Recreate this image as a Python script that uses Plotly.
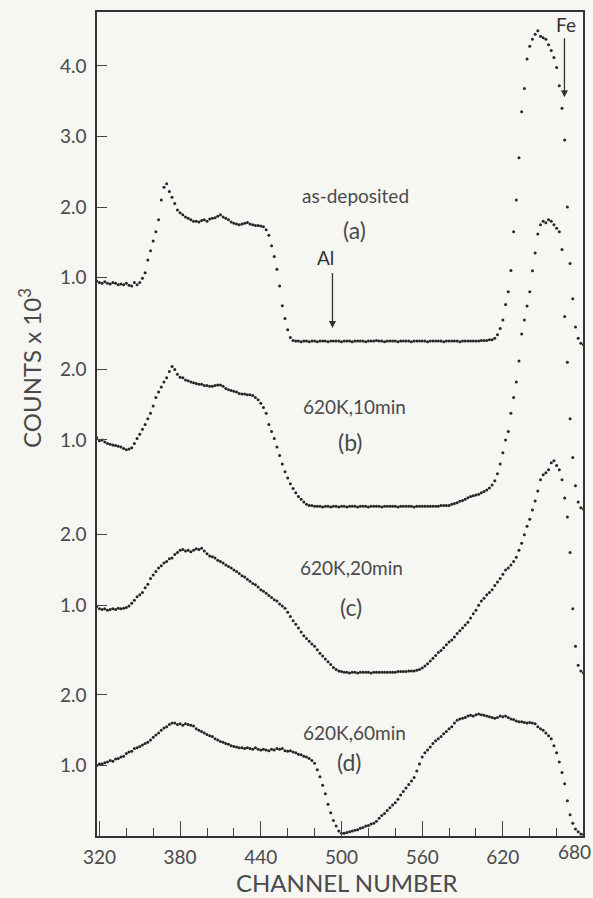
import plotly.graph_objects as go

# ---------------- data ----------------
channels = list(range(318, 681, 2))  # channel number of each plotted point

# counts (x 10^3), one value per plotted channel
counts_a = [  # as-deposited
    0.95, 0.93, 0.92, 0.94, 0.92, 0.91, 0.93, 0.92, 0.90, 0.91,
    0.90, 0.92, 0.89, 0.88, 0.93, 0.90, 0.93, 0.99, 1.07, 1.25,
    1.38, 1.52, 1.65, 1.82, 2.10, 2.28, 2.33, 2.22, 2.14, 2.05,
    1.96, 1.92, 1.89, 1.86, 1.84, 1.82, 1.80, 1.80, 1.79, 1.81,
    1.82, 1.80, 1.83, 1.84, 1.85, 1.87, 1.89, 1.86, 1.84, 1.82,
    1.79, 1.77, 1.76, 1.75, 1.76, 1.77, 1.78, 1.76, 1.75, 1.74,
    1.74, 1.73, 1.72, 1.68, 1.60, 1.45, 1.30, 1.12, 0.88, 0.60,
    0.42, 0.26, 0.15, 0.11, 0.10, 0.10, 0.09, 0.10, 0.10, 0.09,
    0.10, 0.10, 0.09, 0.10, 0.10, 0.10, 0.09, 0.10, 0.10, 0.10,
    0.10, 0.09, 0.10, 0.10, 0.10, 0.09, 0.10, 0.10, 0.10, 0.10,
    0.09, 0.10, 0.10, 0.10, 0.11, 0.10, 0.10, 0.09, 0.10, 0.10,
    0.10, 0.10, 0.09, 0.10, 0.10, 0.10, 0.10, 0.09, 0.10, 0.10,
    0.10, 0.10, 0.10, 0.09, 0.10, 0.10, 0.10, 0.10, 0.10, 0.09,
    0.10, 0.10, 0.10, 0.10, 0.10, 0.09, 0.10, 0.10, 0.10, 0.10,
    0.10, 0.10, 0.10, 0.11, 0.11, 0.11, 0.12, 0.12, 0.14, 0.19,
    0.28, 0.40, 0.62, 0.80, 1.10, 1.65, 2.10, 2.70, 3.35, 3.68,
    4.10, 4.28, 4.38, 4.45, 4.50, 4.42, 4.40, 4.38, 4.30, 4.22,
    4.12, 3.98, 3.72, 3.40, 2.95, 2.00, 1.20, 0.70, 0.30, 0.14,
    0.07, 0.05,
]
counts_b = [  # 620 K, 10 min
    1.03, 0.99, 1.00, 0.97, 0.95, 0.94, 0.93, 0.92, 0.91, 0.90,
    0.88, 0.86, 0.87, 0.89, 0.95, 1.02, 1.08, 1.15, 1.22, 1.30,
    1.38, 1.48, 1.60, 1.68, 1.75, 1.82, 1.88, 1.97, 2.04, 2.00,
    1.93, 1.89, 1.88, 1.85, 1.84, 1.82, 1.81, 1.80, 1.79, 1.79,
    1.77, 1.77, 1.76, 1.76, 1.77, 1.78, 1.78, 1.76, 1.73, 1.71,
    1.70, 1.69, 1.68, 1.66, 1.65, 1.65, 1.64, 1.64, 1.63, 1.60,
    1.57, 1.52, 1.46, 1.38, 1.22, 1.12, 1.02, 0.90, 0.78, 0.66,
    0.55, 0.46, 0.38, 0.31, 0.25, 0.20, 0.16, 0.12, 0.09, 0.07,
    0.07, 0.06, 0.06, 0.06, 0.05, 0.06, 0.06, 0.05, 0.06, 0.06,
    0.05, 0.06, 0.06, 0.05, 0.06, 0.06, 0.06, 0.05, 0.06, 0.06,
    0.06, 0.05, 0.06, 0.06, 0.06, 0.06, 0.05, 0.06, 0.06, 0.06,
    0.06, 0.06, 0.05, 0.06, 0.06, 0.06, 0.06, 0.06, 0.05, 0.06,
    0.06, 0.06, 0.06, 0.06, 0.06, 0.06, 0.06, 0.06, 0.07, 0.07,
    0.07, 0.07, 0.09, 0.10, 0.11, 0.13, 0.14, 0.16, 0.18, 0.20,
    0.21, 0.22, 0.23, 0.25, 0.27, 0.29, 0.32, 0.36, 0.42, 0.52,
    0.66, 0.82, 1.00, 1.12, 1.38, 1.60, 1.82, 2.12, 2.50, 2.70,
    2.90, 3.10, 3.40, 3.65, 3.92, 4.05, 4.10, 4.08, 4.12, 4.10,
    4.05, 4.00, 3.95, 3.70, 2.75, 2.10, 1.30, 0.75, 0.35, 0.12,
    0.04, 0.02,
]
counts_c = [  # 620 K, 20 min
    0.98, 0.95, 0.94, 0.95, 0.93, 0.94, 0.95, 0.94, 0.96, 0.95,
    0.96, 0.97, 0.99, 1.03, 1.07, 1.12, 1.15, 1.18, 1.25, 1.30,
    1.38, 1.43, 1.48, 1.53, 1.56, 1.60, 1.62, 1.66, 1.67, 1.72,
    1.75, 1.78, 1.79, 1.77, 1.78, 1.76, 1.78, 1.80, 1.79, 1.81,
    1.77, 1.73, 1.70, 1.69, 1.67, 1.64, 1.62, 1.60, 1.57, 1.55,
    1.53, 1.50, 1.48, 1.45, 1.42, 1.40, 1.37, 1.34, 1.31, 1.29,
    1.26, 1.22, 1.20, 1.17, 1.14, 1.11, 1.08, 1.06, 1.02, 0.99,
    0.96, 0.90, 0.84, 0.78, 0.73, 0.68, 0.62, 0.57, 0.53, 0.49,
    0.45, 0.42, 0.37, 0.32, 0.28, 0.24, 0.20, 0.16, 0.12, 0.09,
    0.07, 0.06, 0.05, 0.05, 0.04, 0.05, 0.05, 0.04, 0.05, 0.05,
    0.05, 0.05, 0.04, 0.05, 0.05, 0.05, 0.05, 0.05, 0.05, 0.05,
    0.05, 0.05, 0.06, 0.06, 0.06, 0.06, 0.07, 0.07, 0.07, 0.08,
    0.09, 0.11, 0.14, 0.17, 0.21, 0.25, 0.29, 0.33, 0.36, 0.40,
    0.44, 0.48, 0.51, 0.55, 0.60, 0.64, 0.68, 0.72, 0.76, 0.82,
    0.88, 0.93, 1.00, 1.06, 1.10, 1.15, 1.18, 1.22, 1.28, 1.33,
    1.38, 1.44, 1.50, 1.53, 1.57, 1.62, 1.68, 1.78, 1.88, 2.00,
    2.12, 2.22, 2.35, 2.48, 2.62, 2.78, 2.85, 2.88, 2.92, 3.02,
    3.05, 2.98, 2.92, 2.78, 2.52, 2.25, 1.75, 0.95, 0.42, 0.15,
    0.07, 0.04,
]
counts_d = [  # 620 K, 60 min
    1.00, 1.02, 1.02, 1.04, 1.05, 1.07, 1.06, 1.09, 1.10, 1.12,
    1.13, 1.17, 1.19, 1.20, 1.24, 1.25, 1.27, 1.29, 1.31, 1.33,
    1.36, 1.40, 1.43, 1.46, 1.50, 1.53, 1.55, 1.58, 1.60, 1.60,
    1.58, 1.59, 1.57, 1.59, 1.58, 1.57, 1.56, 1.52, 1.50, 1.48,
    1.46, 1.44, 1.42, 1.41, 1.38, 1.36, 1.34, 1.33, 1.31, 1.30,
    1.28, 1.27, 1.26, 1.25, 1.25, 1.24, 1.25, 1.24, 1.23, 1.25,
    1.23, 1.22, 1.23, 1.22, 1.21, 1.23, 1.22, 1.24, 1.23, 1.24,
    1.21, 1.20, 1.21, 1.19, 1.18, 1.16, 1.15, 1.13, 1.12, 1.10,
    1.07, 1.03, 0.94, 0.84, 0.72, 0.60, 0.45, 0.33, 0.22, 0.14,
    0.07, 0.04, 0.04, 0.05, 0.06, 0.07, 0.08, 0.09, 0.11, 0.12,
    0.14, 0.15, 0.17, 0.18, 0.21, 0.25, 0.29, 0.32, 0.36, 0.40,
    0.44, 0.47, 0.52, 0.58, 0.63, 0.68, 0.73, 0.78, 0.83, 0.92,
    1.02, 1.12, 1.18, 1.22, 1.26, 1.31, 1.35, 1.38, 1.41, 1.45,
    1.48, 1.52, 1.55, 1.60, 1.64, 1.66, 1.67, 1.68, 1.70, 1.71,
    1.70, 1.72, 1.73, 1.72, 1.71, 1.70, 1.69, 1.68, 1.67, 1.68,
    1.70, 1.69, 1.70, 1.68, 1.66, 1.65, 1.63, 1.62, 1.62, 1.61,
    1.60, 1.61, 1.60, 1.59, 1.55, 1.52, 1.50, 1.46, 1.42, 1.38,
    1.28, 1.18, 1.05, 0.90, 0.74, 0.50, 0.30, 0.18, 0.10, 0.06,
    0.03, 0.02,
]

spectrum_names = ["as-deposited", "620K,10min", "620K,20min", "620K,60min"]
panel_letters = ["(a)", "(b)", "(c)", "(d)"]
y_tick_counts = [[1.0, 2.0, 3.0, 4.0], [1.0, 2.0], [1.0, 2.0], [1.0, 2.0]]
x_tick_values = [320, 380, 440, 500, 560, 620, 680]
element_labels = ["Al", "Fe"]

# ---------------- layout constants ----------------
series = [counts_a, counts_b, counts_c, counts_d]
for s in series:
    assert len(s) == len(channels), len(s)

offsets = [6.915, 4.614, 2.27, 0.0]          # vertical stacking offset of each spectrum
X_RANGE = [318.2, 679.6]
FONT = "Lato, 'Open Sans', 'DejaVu Sans', sans-serif"
TXT = "#4a4a4a"
INK = "#262626"
BG = "#f6f6f3"

fig = go.Figure()
for counts, off, name in zip(series, offsets, spectrum_names):
    fig.add_trace(go.Scatter(
        x=channels, y=[v + off for v in counts], mode="markers", name=name,
        marker=dict(size=3, color=INK), showlegend=False, hoverinfo="x+y"))

tickvals, ticktext = [], []
for off, ticks in zip(offsets, y_tick_counts):
    for t in ticks:
        tickvals.append(off + t)
        ticktext.append(f"{t:.1f}")

# ticks inside the x range get axis labels; the one lying on the right frame is an annotation
x_in = [v for v in x_tick_values if v < X_RANGE[1]]
x_edge = [v for v in x_tick_values if v >= X_RANGE[1]]

fig.update_layout(
    width=593, height=898, autosize=False,
    margin=dict(l=97, r=10, t=12, b=62),
    paper_bgcolor=BG, plot_bgcolor=BG,
    font=dict(family=FONT, color=TXT, size=19),
    xaxis=dict(range=X_RANGE, showgrid=False, zeroline=False, automargin=False,
               showline=True, mirror=True, linecolor="#333", linewidth=1.5,
               tickmode="array", tickvals=x_in,
               ticks="inside", ticklen=15, tickwidth=1.2, tickcolor="#444",
               minor=dict(ticks="inside", ticklen=8, tickwidth=1.2, tickcolor="#444",
                          tickmode="array", tickvals=list(range(340, 680, 20))),
               tickfont=dict(size=19, color=TXT), ticklabelstandoff=3),
    yaxis=dict(range=[0, 11.68], showgrid=False, zeroline=False, automargin=False,
               showline=True, mirror=True, linecolor="#333", linewidth=1.5,
               tickmode="array", tickvals=tickvals, ticktext=ticktext,
               ticks="inside", ticklen=10, tickwidth=1.2, tickcolor="#444",
               tickfont=dict(size=19, color=TXT), ticklabelstandoff=5),
)

ann = []
for v in x_edge:
    ann.append(dict(text=str(v), x=1.0, y=-0.0194, xref="paper", yref="paper", xshift=-9,
                    showarrow=False, font=dict(size=19, color=TXT),
                    xanchor="center", yanchor="middle"))
# axis titles
ann.append(dict(text="CHANNEL NUMBER", xref="paper", yref="paper", x=0.515, y=-0.056,
                showarrow=False, font=dict(size=24, color=TXT), xanchor="center", yanchor="middle"))
ann.append(dict(text="COUNTS x 10<sup>3</sup>", xref="paper", yref="paper", x=-0.138, y=0.568,
                showarrow=False, textangle=-90, font=dict(size=24, color=TXT),
                xanchor="center", yanchor="middle"))
# spectrum labels
name_pos = [(510.7, 9.08), (510.0, 6.085), (507.7, 3.80), (510.0, 1.461)]
letter_pos = [(510.0, 8.596), (507.0, 5.589), (507.0, 3.248), (506.3, 1.05)]
for name, (nx, ny) in zip(spectrum_names, name_pos):
    ann.append(dict(text=name, x=nx, y=ny, xref="x", yref="y", showarrow=False,
                    font=dict(size=19, color=TXT)))
for let, (lx, ly) in zip(panel_letters, letter_pos):
    ann.append(dict(text=let, x=lx, y=ly, xref="x", yref="y", showarrow=False,
                    font=dict(size=23, color=TXT)))
# element markers
ann.append(dict(text=element_labels[0], x=488.4, y=8.2, xref="x", yref="y", showarrow=False,
                font=dict(size=19, color="#333")))
ann.append(dict(text="", x=493.3, y=7.2, ax=493.3, ay=8.0, xref="x", yref="y",
                axref="x", ayref="y", showarrow=True, arrowhead=2, arrowsize=1.1,
                arrowwidth=1.3, arrowcolor="#333"))
ann.append(dict(text=element_labels[1], x=666.6, y=11.5, xref="x", yref="y", showarrow=False,
                font=dict(size=19, color="#333")))
ann.append(dict(text="", x=665.8, y=10.47, ax=665.8, ay=11.33, xref="x", yref="y",
                axref="x", ayref="y", showarrow=True, arrowhead=2, arrowsize=1.1,
                arrowwidth=1.3, arrowcolor="#333"))
fig.update_layout(annotations=ann)

fig.write_html(
    "out.html",
    config={"displayModeBar": False},
    post_script="document.body.style.margin='0';document.body.style.background='%s';" % BG,
)
